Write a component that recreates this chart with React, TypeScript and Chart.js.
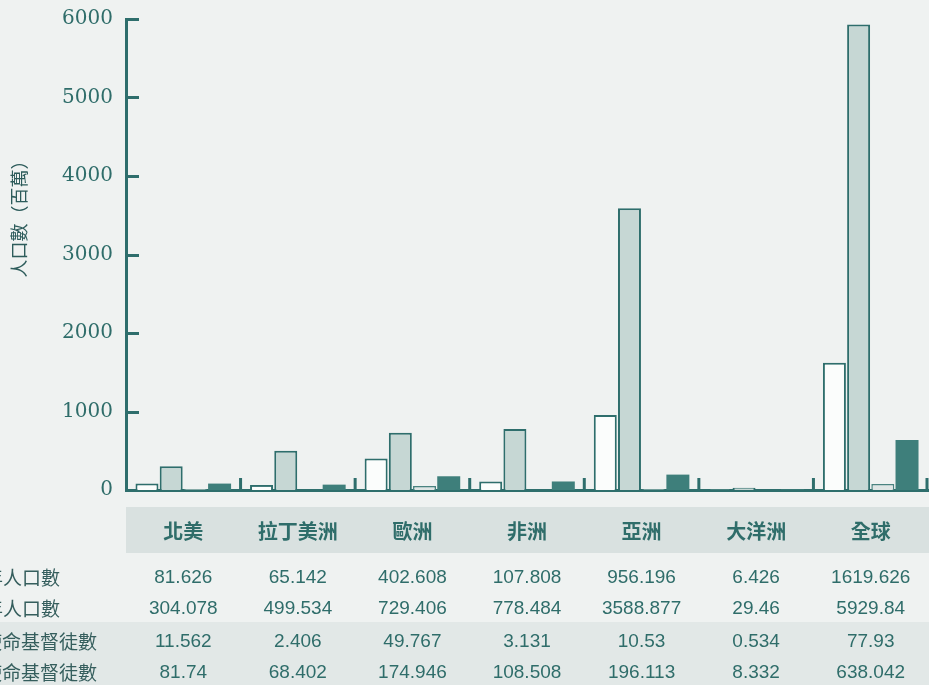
import React, { useEffect, useRef } from 'react';
import { Chart, registerables } from 'chart.js';

Chart.register(...registerables);

// ---- data ----
const categories = ['北美', '拉丁美洲', '歐洲', '非洲', '亞洲', '大洋洲', '全球'];
const pop1900 = [81.626, 65.142, 402.608, 107.808, 956.196, 6.426, 1619.626];
const pop2000 = [304.078, 499.534, 729.406, 778.484, 3588.877, 29.46, 5929.84];
const gcc1900 = [11.562, 2.406, 49.767, 3.131, 10.53, 0.534, 77.93];
const gcc2000 = [81.74, 68.402, 174.946, 108.508, 196.113, 8.332, 638.042];
const seriesNames = ['1900年人口數', '2000年人口數', '1900年使命基督徒數', '2000年使命基督徒數'];
const yTickValues = [0, 1000, 2000, 3000, 4000, 5000, 6000];
const yTitle = '人口數（百萬）';

// ---- styles ----
const TEAL = '#2e6e6c';
const TEXT_TEAL = '#2f6d6a';
const BG = '#eff2f1';

const tablePlugin = {
  id: 'tableDecor',
  beforeDraw(chart: any) {
    const { ctx, chartArea, width } = chart;
    const b = chartArea.bottom;
    ctx.save();
    // header band
    ctx.fillStyle = '#d9e1e0';
    ctx.fillRect(chartArea.left, b + 17, width - chartArea.left, 46);
    // lower rows band
    ctx.fillStyle = '#e2e8e7';
    ctx.fillRect(0, b + 132, width, 70);
    ctx.restore();
  },
  afterDraw(chart: any) {
    const { ctx, chartArea } = chart;
    const xs = chart.scales.x;
    const ys = chart.scales.y;
    const b = chartArea.bottom;
    ctx.save();
    // inward y ticks
    ctx.strokeStyle = TEAL;
    ctx.lineWidth = 3;
    ys.ticks.forEach((t: any) => {
      if (t.value === 0) return;
      const py = Math.round(ys.getPixelForValue(t.value)) + 0.5;
      ctx.beginPath();
      ctx.moveTo(chartArea.left, py);
      ctx.lineTo(chartArea.left + 13, py);
      ctx.stroke();
    });
    // category boundary marks
    ctx.fillStyle = TEAL;
    for (let i = 0; i < categories.length; i++) {
      const bx =
        i < categories.length - 1
          ? (xs.getPixelForValue(i) + xs.getPixelForValue(i + 1)) / 2
          : chartArea.right - 1;
      ctx.fillRect(bx - 1.5, b - 12, 3, 12);
    }
    // y title
    ctx.save();
    ctx.translate(19, (chartArea.top + chartArea.bottom) / 2 - 40);
    ctx.rotate(-Math.PI / 2);
    ctx.fillStyle = '#2d5c5b';
    ctx.font = '18px "Noto Sans CJK TC"';
    ctx.textAlign = 'center';
    ctx.textBaseline = 'middle';
    ctx.fillText(yTitle, 0, 0);
    ctx.restore();
    // table rows
    const rows = [pop1900, pop2000, gcc1900, gcc2000];
    const rowY = [88, 119, 152, 183];
    const labelRight = [60, 60, 97, 97];
    ctx.textBaseline = 'middle';
    rows.forEach((vals, r) => {
      const y = b + rowY[r];
      ctx.font = '19px "Noto Sans CJK TC"';
      ctx.fillStyle = '#355e5d';
      ctx.textAlign = 'right';
      ctx.fillText(seriesNames[r], labelRight[r], y);
      ctx.font = '19px "Liberation Sans"';
      ctx.fillStyle = TEXT_TEAL;
      ctx.textAlign = 'center';
      vals.forEach((v, i) => {
        ctx.fillText(String(v), xs.getPixelForValue(i), y);
      });
    });
    ctx.restore();
  },
};

export default function App() {
  const canvasRef = useRef<HTMLCanvasElement | null>(null);

  useEffect(() => {
    if (!canvasRef.current) return;
    const chart = new Chart(canvasRef.current, {
      type: 'bar',
      data: {
        labels: categories,
        datasets: [
          {
            label: seriesNames[0],
            data: pop1900,
            backgroundColor: '#fbfdfc',
            borderColor: TEAL,
            borderWidth: 2,
          },
          {
            label: seriesNames[1],
            data: pop2000,
            backgroundColor: '#c6d7d4',
            borderColor: TEAL,
            borderWidth: 2,
          },
          {
            label: seriesNames[2],
            data: gcc1900,
            backgroundColor: '#dfe6e5',
            borderColor: '#4a8380',
            borderWidth: 1.5,
          },
          {
            label: seriesNames[3],
            data: gcc2000,
            backgroundColor: '#3e7f7b',
            borderColor: '#3e7f7b',
            borderWidth: 0,
          },
        ],
      },
      options: {
        animation: false,
        responsive: false,
        maintainAspectRatio: false,
        layout: { padding: { top: 19, right: 1, bottom: 113, left: 0 } },
        plugins: {
          legend: { display: false },
          tooltip: { enabled: false },
          title: { display: false },
        },
        datasets: {
          bar: { categoryPercentage: 0.845, barPercentage: 0.95 },
        },
        scales: {
          x: {
            grid: { display: false, drawTicks: false },
            border: { display: true, color: TEAL, width: 3 },
            ticks: {
              padding: 29,
              color: TEXT_TEAL,
              font: { family: '"Noto Sans CJK TC"', size: 20, weight: 'bold' },
            },
          },
          y: {
            min: 0,
            max: 6000,
            afterFit: (s: any) => {
              s.width = 126;
              s.paddingTop = 0;
              s.paddingBottom = 0;
            },
            afterBuildTicks: (s: any) => {
              s.ticks = yTickValues.map((v) => ({ value: v }));
            },
            grid: { display: false, drawTicks: false },
            border: { display: true, color: TEAL, width: 3 },
            ticks: {
              padding: 13,
              color: TEXT_TEAL,
              font: { family: '"DejaVu Serif"', size: 20 },
              callback: (v: any) => String(v),
            },
          },
        },
      },
      plugins: [tablePlugin],
    } as any);
    return () => chart.destroy();
  }, []);

  return (
    <div
      style={{
        position: 'fixed',
        left: 0,
        top: 0,
        width: 929,
        height: 685,
        background: BG,
      }}
    >
      <canvas ref={canvasRef} width={929} height={685} style={{ display: 'block' }} />
    </div>
  );
}
